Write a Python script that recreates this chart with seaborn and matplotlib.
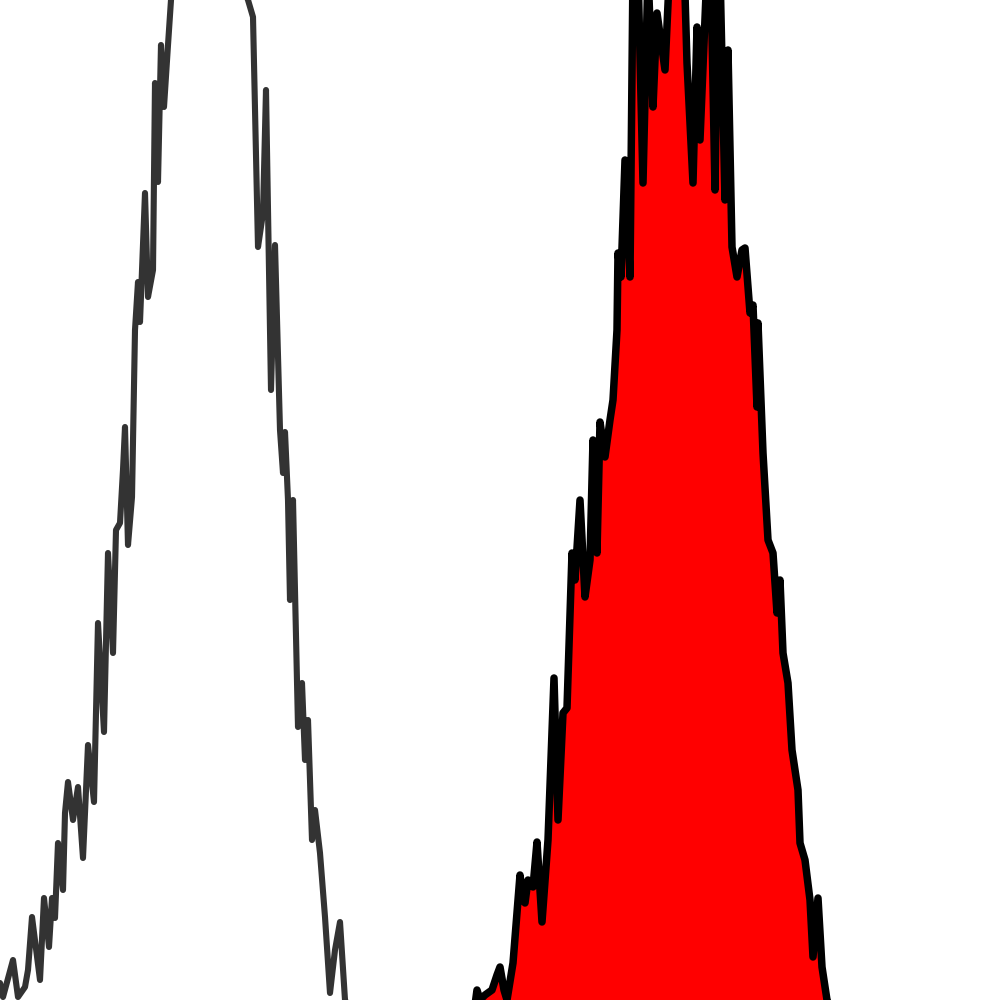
import matplotlib
matplotlib.use("Agg")
import matplotlib.pyplot as plt
import seaborn as sns
import numpy as np

# Control (unstained) histogram: channel position and event count
ctrl_x = [0, 3, 13, 18, 25, 28, 32, 40, 44, 49, 52, 55, 58, 63, 65, 68, 73, 78, 83, 88,
          94, 98, 104, 108, 113, 116, 120, 123, 125, 128, 132, 135, 138, 140, 145, 148,
          153, 155, 158, 161, 164, 168, 171, 176, 185, 200, 215, 235, 246, 248, 253, 258,
          263, 266, 271, 275, 280, 283, 285, 288, 290, 293, 298, 302, 305, 308, 312, 315,
          320, 325, 330, 335, 340, 345, 350]
ctrl_y = [17, 3, 40, 3, 13, 30, 83, 20, 102, 53, 102, 82, 157, 110, 187, 218, 180, 213, 142, 255,
          198, 377, 268, 447, 347, 470, 477, 530, 573, 455, 503, 670, 718, 678, 807, 703,
          730, 917, 818, 955, 893, 955, 1000, 1050, 1070, 1003, 1060, 1050, 1005, 1000, 983, 753,
          787, 910, 610, 755, 570, 527, 568, 500, 400, 500, 273, 317, 240, 280, 160, 190,
          147, 83, 7, 50, 78, 0, -10]

# Stained sample histogram
samp_x = [475, 477, 480, 485, 492, 497, 500, 504, 507, 513, 520, 523, 525, 528, 533, 537, 542, 548,
          554, 558, 563, 567, 572, 575, 580, 585, 590, 593, 597, 600, 605, 610, 613, 617, 618, 621, 625,
          630, 633, 638, 643, 648, 653, 657, 665, 670, 680, 684, 687, 693, 697, 700,
          707, 711, 715, 718, 720, 725, 728, 732, 737, 742, 745, 750, 753, 757, 758, 763, 768,
          773, 777, 780, 783, 788, 792, 798, 800, 805, 810, 813, 818, 822, 827, 832]
samp_y = [-5, 10, 0, 5, 10, 25, 33, 10, 0, 37, 125, 100, 97, 120, 113, 158, 78, 160,
          322, 180, 287, 292, 447, 420, 500, 403, 440, 560, 447, 578, 543, 580, 600, 670, 747, 723, 840,
          723, 1030, 1030, 817, 1030, 893, 987, 930, 1040, 1060, 1040, 937, 817, 973, 860,
          1030, 1020, 810, 1030, 1030, 800, 950, 753, 723, 750, 752, 687, 695, 593, 677, 547, 460,
          447, 387, 420, 347, 317, 250, 210, 157, 140, 100, 43, 102, 33, 0, -10]

sns.set_style("white")
fig = plt.figure(figsize=(10, 10), dpi=100)
ax = fig.add_axes([0, 0, 1, 1])

sns.lineplot(x=ctrl_x, y=ctrl_y, sort=False, estimator=None, color="#333333",
             linewidth=4.4, ax=ax, solid_joinstyle="round", solid_capstyle="round")
ax.fill_between(samp_x, samp_y, 0, color="#ff0000", linewidth=0, zorder=2)
sns.lineplot(x=samp_x, y=samp_y, sort=False, estimator=None, color="black",
             linewidth=5.4, ax=ax, solid_joinstyle="round", solid_capstyle="round", zorder=3)

ax.set_xlim(0, 1000)
ax.set_ylim(0, 1000)
ax.axis("off")
fig.savefig("out.png", dpi=100, facecolor="white")
